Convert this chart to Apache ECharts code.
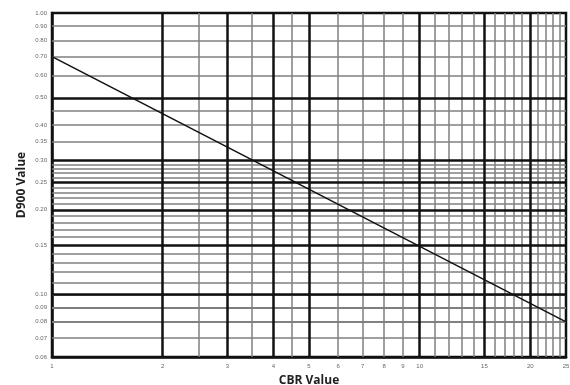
<!DOCTYPE html>
<html>
<head>
<meta charset="utf-8">
<script src="https://cdn.jsdelivr.net/npm/echarts@6/dist/echarts.min.js"></script>
<style>
  html, body { margin: 0; padding: 0; background: #fff; }
  #chart { width: 570px; height: 385px; }
</style>
</head>
<body>
<div id="chart"></div>
<script>
// CBR vs D900 design line (log-log paper)
const cbrLine = [1, 25];
const d900Line = [0.70, 0.08];

const xLabels = [1, 2, 3, 4, 5, 6, 7, 8, 9, 10, 15, 20, 25];
const yLabels = [1.0, 0.9, 0.8, 0.7, 0.6, 0.5, 0.4, 0.35, 0.3, 0.25, 0.2, 0.15, 0.1, 0.09, 0.08, 0.07, 0.06];

const xBold = [2, 3, 4, 5, 10, 15, 20];
const xThin = [2.5, 3.5, 4.5, 6, 7, 8, 9, 11, 12, 13, 14, 16, 17, 18, 19, 21, 22, 23, 24];
const yBold = [0.5, 0.3, 0.25, 0.2, 0.15, 0.1];
const yThin = [0.9, 0.8, 0.7, 0.6, 0.45, 0.4, 0.35,
  0.29, 0.28, 0.27, 0.26, 0.24, 0.23, 0.22, 0.21,
  0.19, 0.18, 0.17, 0.16, 0.14, 0.13, 0.12, 0.11,
  0.098, 0.096, 0.094, 0.092, 0.09, 0.088, 0.086, 0.084, 0.082, 0.08, 0.07];

const myChart = echarts.init(document.getElementById('chart'), null, { renderer: 'canvas' });

const thinStyle = { color: '#7f7f7f', width: 1.5, type: 'solid' };
const boldStyle = { color: '#111', width: 2.5, type: 'solid' };

const gridLines = []
  .concat(xThin.map(v => ({ xAxis: v, lineStyle: thinStyle })))
  .concat(yThin.map(v => ({ yAxis: v, lineStyle: thinStyle })))
  .concat(xBold.map(v => ({ xAxis: v, lineStyle: boldStyle })))
  .concat(yBold.map(v => ({ yAxis: v, lineStyle: boldStyle })));

const option = {
  animation: false,
  grid: {
    left: 52,
    right: 4,
    top: 13,
    bottom: 28,
    outerBoundsMode: 'none',
    containLabel: false,
    show: true,
    borderColor: '#111',
    borderWidth: 2.5,
  },
  xAxis: {
    type: 'log',
    logBase: 10,
    min: 1,
    max: 25,
    name: 'CBR Value',
    nameLocation: 'middle',
    nameGap: 18,
    nameTextStyle: { fontFamily: 'Open Sans', fontWeight: 'bold', fontSize: 12, color: '#222' },
    axisLine: { show: true, lineStyle: { color: '#111', width: 2.5 } },
    axisTick: { show: false },
    splitLine: { show: false },
    axisLabel: {
      customValues: xLabels,
      fontSize: 6,
      color: '#666',
      margin: 6,
      formatter: v => String(v),
    },
  },
  yAxis: {
    type: 'log',
    logBase: 10,
    min: 0.06,
    max: 1,
    name: 'D900 Value',
    nameLocation: 'middle',
    nameGap: 24,
    nameMoveOverlap: false,
    nameTextStyle: { fontFamily: 'Open Sans', fontWeight: 'bold', fontSize: 12, color: '#222' },
    axisLine: { show: true, lineStyle: { color: '#111', width: 2.5 } },
    axisTick: { show: false },
    splitLine: { show: false },
    axisLabel: {
      customValues: yLabels,
      fontSize: 6,
      color: '#666',
      margin: 5,
      formatter: v => Number(v).toFixed(2),
    },
  },
  series: [
    {
      type: 'line',
      name: 'D900',
      data: cbrLine.map((c, i) => [c, d900Line[i]]),
      symbol: 'none',
      lineStyle: { color: '#111', width: 1.5 },
      z: 5,
      markLine: {
        silent: true,
        symbol: ['none', 'none'],
        label: { show: false },
        data: gridLines,
        z: 2,
      },
    },
  ],
};

myChart.setOption(option);
</script>
</body>
</html>
